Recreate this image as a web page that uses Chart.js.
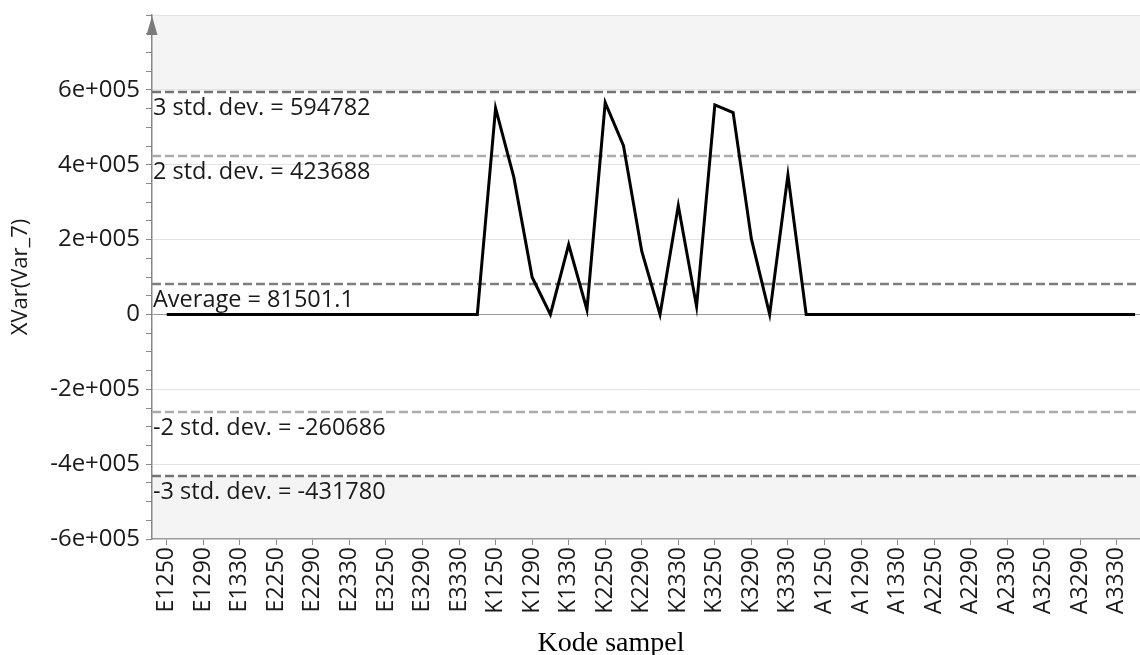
<!DOCTYPE html>
<html><head><meta charset="utf-8">
<script src="https://cdn.jsdelivr.net/npm/chart.js@4.4.1/dist/chart.umd.min.js"></script>
<style>html,body{margin:0;padding:0;background:#fff}#wrap{width:1140px;height:655px}</style>
</head><body><div id="wrap"><canvas id="c" width="1140" height="655"></canvas></div>
<script>
const categories = [
  'E1250','E1270','E1290','E1310','E1330','E1350',
  'E2250','E2270','E2290','E2310','E2330','E2350',
  'E3250','E3270','E3290','E3310','E3330','E3350',
  'K1250','K1270','K1290','K1310','K1330','K1350',
  'K2250','K2270','K2290','K2310','K2330','K2350',
  'K3250','K3270','K3290','K3310','K3330','K3350',
  'A1250','A1270','A1290','A1310','A1330','A1350',
  'A2250','A2270','A2290','A2310','A2330','A2350',
  'A3250','A3270','A3290','A3310','A3330','A3350'
];
const xVarValues = [
  0,0,0,0,0,0,
  0,0,0,0,0,0,
  0,0,0,0,0,0,
  551000,366000,99500,0,186700,12500,
  566000,450700,168900,0,290700,21300,
  560000,539500,201800,0,372500,0,
  0,0,0,0,0,0,
  0,0,0,0,0,0,
  0,0,0,0,0,0
];
const limitValues = [594782, 423688, 81501.1, -260686, -431780];
const limitLabels = ['3 std. dev. = 594782','2 std. dev. = 423688','Average = 81501.1','-2 std. dev. = -260686','-3 std. dev. = -431780'];
const yTickValues = [600000, 400000, 200000, 0, -200000, -400000, -600000];
const yTickLabels = ['6e+005','4e+005','2e+005','0','-2e+005','-4e+005','-6e+005'];
const xTitle = 'Kode sampel';

const FONT = 'Open Sans';
const limitColors = ['#747474', '#ababab', '#7e7e7e', '#ababab', '#747474'];

const bgPlugin = {
  id:'bg',
  beforeDraw(chart){
    const {ctx, chartArea:a, scales:{y}} = chart;
    ctx.save();
    ctx.fillStyle = '#f4f4f4';
    ctx.fillRect(a.left, a.top, a.right-a.left, a.bottom-a.top);
    const yt = y.getPixelForValue(limitValues[0]);
    const yb = y.getPixelForValue(limitValues[4]);
    ctx.fillStyle = '#ffffff';
    ctx.fillRect(a.left, yt, a.right-a.left, yb-yt);
    ctx.restore();
  },
  beforeDatasetsDraw(chart){
    const {ctx, chartArea:a, scales:{y}} = chart;
    ctx.save();
    limitValues.forEach((v,i)=>{
      const py = Math.round(y.getPixelForValue(v));
      ctx.strokeStyle = limitColors[i];
      ctx.lineWidth = 2.5;
      ctx.setLineDash([9,4]);
      ctx.beginPath();
      ctx.moveTo(a.left, py);
      ctx.lineTo(a.right, py);
      ctx.stroke();
      ctx.setLineDash([]);
      ctx.fillStyle = '#1a1a1a';
      ctx.font = '23.5px "' + FONT + '"';
      ctx.textBaseline = 'top';
      ctx.textAlign = 'left';
      ctx.fillText(limitLabels[i], a.left + 1, py + 5);
    });
    ctx.restore();
  },
  afterDraw(chart){
    const {ctx, chartArea:a} = chart;
    ctx.save();
    ctx.fillStyle = '#7a7a7a';
    ctx.beginPath();
    ctx.moveTo(a.left, a.top + 1);
    ctx.lineTo(a.left - 5.5, a.top + 20);
    ctx.lineTo(a.left + 5.5, a.top + 20);
    ctx.closePath();
    ctx.fill();
    ctx.fillStyle = '#000';
    ctx.font = '28px "Liberation Serif"';
    ctx.textAlign = 'center';
    ctx.textBaseline = 'alphabetic';
    ctx.fillText(xTitle, 611, 651);
    ctx.restore();
  }
};

new Chart(document.getElementById('c'), {
  type:'line',
  data:{
    datasets:[{
      data: xVarValues.map((v,i)=>({x:i, y:v})),
      borderColor:'#000000',
      borderWidth:3,
      pointRadius:0,
      tension:0,
      fill:false
    }]
  },
  options:{
    responsive:false,
    animation:false,
    layout:{padding:{top:15,left:0,right:0,bottom:0}},
    plugins:{legend:{display:false}, tooltip:{enabled:false}},
    scales:{
      x:{
        type:'linear',
        min:-0.805,
        max:53.27,
        afterBuildTicks(s){ s.ticks = categories.map((c,i)=>({value:i})).filter((t,i)=>i%2===0); },
        afterFit(s){ s.height = 116; s.paddingLeft = 0; s.paddingRight = 0; },
        ticks:{
          autoSkip:false, maxRotation:90, minRotation:90,
          callback:(v)=>categories[v],
          font:{family:FONT, size:23}, color:'#1a1a1a', padding:2
        },
        grid:{drawOnChartArea:false, drawTicks:true, tickLength:6, color:'#888888'},
        border:{display:true, color:'#999999', width:1.5}
      },
      y:{
        min:-600000,
        max:800000,
        afterBuildTicks(s){
          const t=[]; for(let v=-600000; v<=800000; v+=50000){ t.push({value:v}); } s.ticks=t;
        },
        afterFit(s){ s.width = 152; s.paddingTop = 0; s.paddingBottom = 0; },
        ticks:{
          autoSkip:false,
          callback:(v)=>{ const k=yTickValues.indexOf(v); return k>=0 ? yTickLabels[k] : ''; },
          font:{family:FONT, size:24}, color:'#1a1a1a', padding:6
        },
        grid:{
          drawTicks:true, tickLength:6, tickColor:'#888888',
          color:(ctx)=>{
            const v = ctx.tick ? ctx.tick.value : null;
            if (v === 0) return '#9a9a9a';
            if (v === -600000) return 'rgba(0,0,0,0)';
            if (v % 200000 === 0) return '#e3e3e3';
            return 'rgba(0,0,0,0)';
          }
        },
        border:{display:true, color:'#888888', width:1.5},
        title:{display:true, text:'XVar(Var_7)', color:'#1a1a1a', font:{family:FONT, size:22}, padding:{top:8,bottom:0}}
      }
    }
  },
  plugins:[bgPlugin]
});
</script>
</body></html>
